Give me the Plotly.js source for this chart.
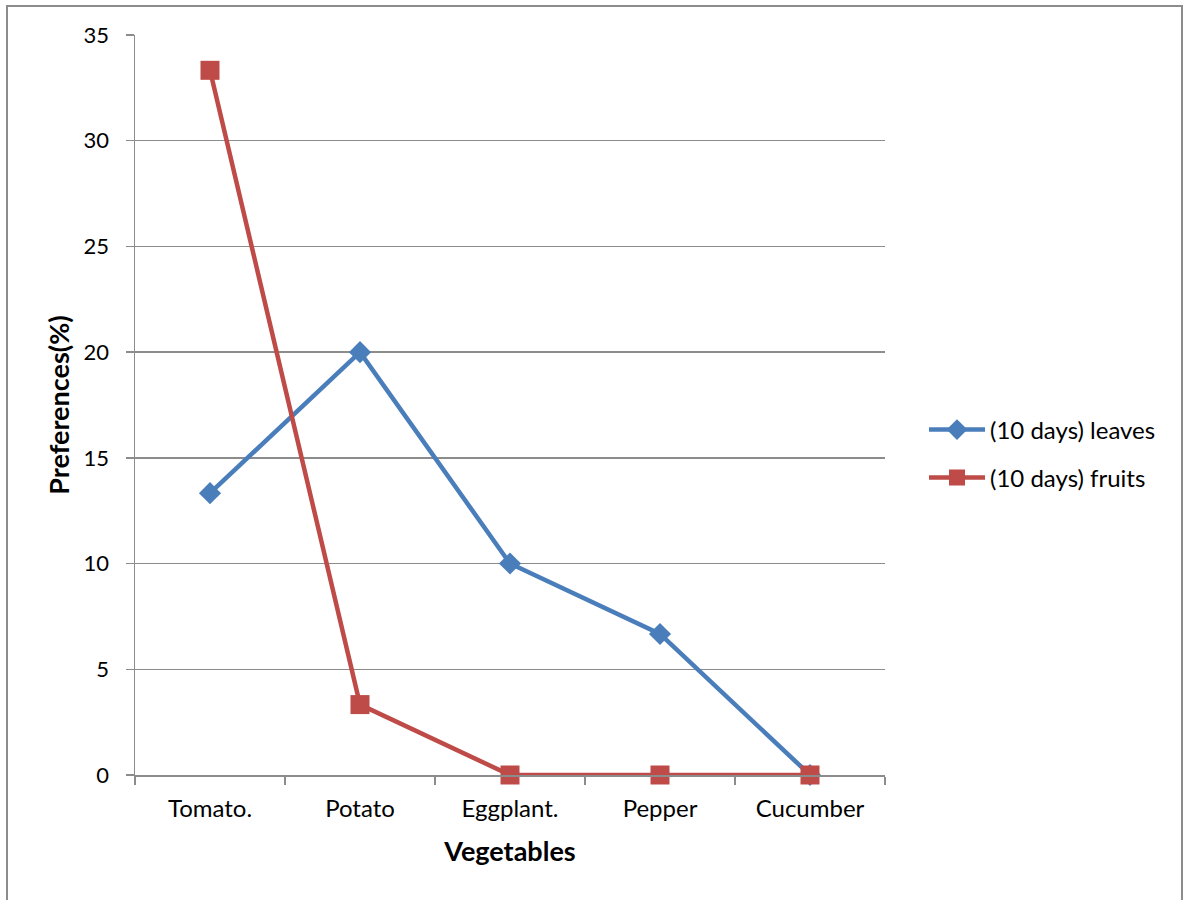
<!DOCTYPE html>
<html>
<head>
<meta charset="utf-8">
<script src="https://cdn.plot.ly/plotly-3.0.1.min.js"></script>
<style>
  html, body { margin: 0; padding: 0; background: #fff; overflow: hidden; }
  #frame { position: absolute; left: 6px; top: 5px; width: 1177px; height: 1000px; border: 2px solid #8c8c8c; box-sizing: border-box; }
  #chart { position: absolute; left: 0; top: 0; width: 1186px; height: 900px; }
</style>
</head>
<body>
<div id="frame"></div>
<div id="chart"></div>
<script>
const categories = ["Tomato.", "Potato", "Eggplant.", "Pepper", "Cucumber"];
const leaves = [13.33, 20, 10, 6.67, 0];
const fruits = [33.33, 3.33, 0, 0, 0];
const seriesNames = ["(10 days) leaves", "(10 days) fruits"];
const yTicks = [0, 5, 10, 15, 20, 25, 30, 35];

const font = "Lato, 'Open Sans', 'DejaVu Sans', sans-serif";

const traces = [
  {
    x: categories, y: leaves, name: seriesNames[0], type: "scatter", mode: "lines+markers",
    line: { color: "#4A7EBB", width: 4.5 },
    marker: { symbol: "diamond", size: 17, color: "#4A7EBB" },
    cliponaxis: false, legend: "legend"
  },
  {
    x: categories, y: fruits, name: seriesNames[1], type: "scatter", mode: "lines+markers",
    line: { color: "#BE4B48", width: 4.5 },
    marker: { symbol: "square", size: 19, color: "#BE4B48" },
    cliponaxis: false, legend: "legend2"
  }
];

const legendCommon = {
  xanchor: "left", yanchor: "middle",
  font: { family: font, size: 24, color: "#000" },
  bgcolor: "rgba(0,0,0,0)", itemwidth: 56
};

const layout = {
  width: 1186, height: 900,
  margin: { l: 135, r: 301, t: 35, b: 125, pad: 0 },
  paper_bgcolor: "rgba(0,0,0,0)",
  plot_bgcolor: "rgba(0,0,0,0)",
  font: { family: font, size: 20, color: "#000" },
  showlegend: true,
  legend: Object.assign({ x: 1.052, y: (775 - 430) / 740 }, legendCommon),
  legend2: Object.assign({ x: 1.052, y: (775 - 478) / 740 }, legendCommon),
  xaxis: {
    type: "category",
    tickvals: categories,
    ticktext: categories,
    tickson: "boundaries",
    ticks: "outside", ticklen: 8, tickwidth: 1.5, tickcolor: "#8c8c8c",
    showline: true, linecolor: "#8c8c8c", linewidth: 1.5,
    showgrid: false, zeroline: false,
    tickfont: { family: font, size: 24 },
    ticklabelstandoff: 12,
    range: [-0.5, 4.5],
    title: { text: "<b>Vegetables</b>", font: { family: font, size: 27 }, standoff: 21 },
    fixedrange: true
  },
  yaxis: {
    range: [0, 35], tickvals: yTicks,
    ticks: "outside", ticklen: 8, tickwidth: 1.5, tickcolor: "#8c8c8c",
    showline: true, linecolor: "#8c8c8c", linewidth: 1.5,
    showgrid: true, gridcolor: "#8c8c8c", gridwidth: 1.3,
    zeroline: false,
    tickfont: { family: font, size: 22 },
    ticklabelstandoff: 12,
    title: { text: "<b>Preferences(%)</b>", font: { family: font, size: 27 }, standoff: 6 },
    fixedrange: true
  }
};

Plotly.newPlot("chart", traces, layout, { displayModeBar: false, staticPlot: true });
</script>
</body>
</html>
